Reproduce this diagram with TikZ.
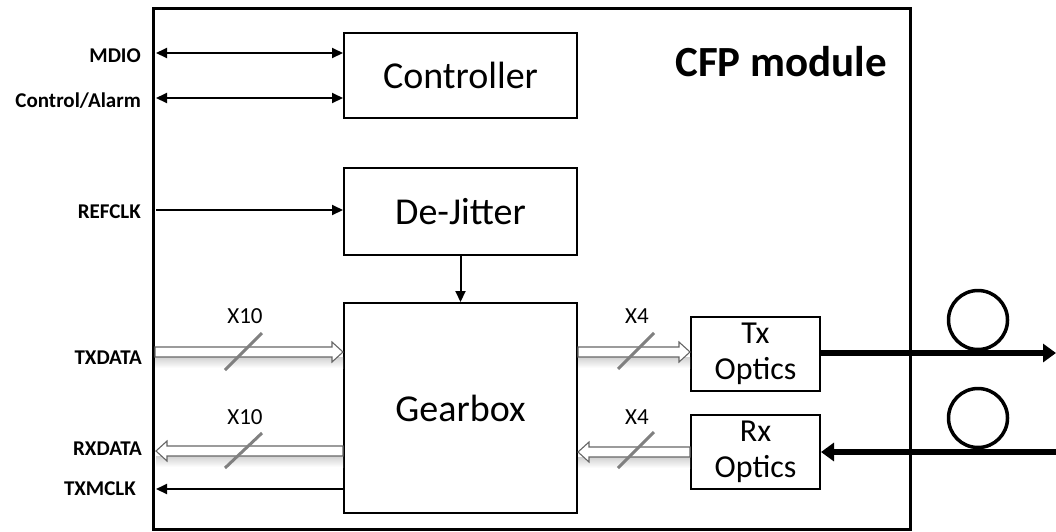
\documentclass[tikz,border=0pt]{standalone}
\usepackage{fontspec}
\setmainfont{Carlito}
\usetikzlibrary{arrows.meta,calc}
\tikzset{
  blk/.style={draw, line width=2pt, rectangle, inner sep=0pt, font=\fontsize{38}{42}\selectfont},
  optblk/.style={draw, line width=2pt, rectangle, inner sep=0pt, align=center, font=\fontsize{32}{36}\selectfont},
  sig/.style={line width=2pt},
  tipa/.style={-{Triangle[length=11pt,width=10pt]}},
  tipab/.style={{Triangle[length=11pt,width=10pt]}-{Triangle[length=11pt,width=10pt]}},
  fibre/.style={line width=5.5pt, -{Triangle[length=13pt,width=18pt]}},
  lbl/.style={anchor=base east, inner sep=0pt, font=\bfseries\fontsize{21}{24}\selectfont},
  cnt/.style={anchor=base, inner sep=0pt, font=\fontsize{23}{26}\selectfont},
  slash/.style={draw=black!50, line width=3pt},
  hollowst/.style={draw=black!60, line width=1.1pt, fill=white, line join=miter},
  shadowst/.style={top color=black!18, bottom color=white, draw=none},
  loop/.style={draw, circle, line width=3.5pt, minimum size=59pt, inner sep=0pt}
}
\newcommand\hollowarr[3]{%
  \shade[shadowst] ($(#1)+(0,5)$) rectangle ($(#2)+(0,16)$);
  \draw[hollowst] ($(#1)+(0,-5)$) -- ($(#2)+(#3,-5)$) -- ($(#2)+(#3,-10)$) -- (#2)
    -- ($(#2)+(#3,10)$) -- ($(#2)+(#3,5)$) -- ($(#1)+(0,5)$) -- cycle;}
\begin{document}
\begin{tikzpicture}[x=1pt,y=-1pt]
\useasboundingbox (0,0) rectangle (1056,531);
% module frame
\node[draw, line width=3pt, minimum width=757pt, minimum height=521pt, inner sep=0pt] (module) at (531.5,268.5) {};
\node[anchor=base east, inner sep=0pt, font=\bfseries\fontsize{43}{48}\selectfont] (title) at (887,76) {CFP module};
% blocks
\node[blk, minimum width=233pt, minimum height=85pt] (ctrl) at (460.5,75.5) {Controller};
\node[blk, minimum width=233pt, minimum height=87pt] (dj) at (460.5,211.5) {De-Jitter};
\node[blk, minimum width=233pt, minimum height=210pt] (gb) at (460.5,408) {Gearbox};
\node[optblk, minimum width=129pt, minimum height=74pt] (tx) at (755.5,354) {Tx\\Optics};
\node[optblk, minimum width=129pt, minimum height=74pt] (rx) at (755.5,452) {Rx\\Optics};
% edge coordinates on the module border
\coordinate (mdioL) at (156,53);
\coordinate (ctlL) at (156,98);
\coordinate (refL) at (156,210);
\coordinate (txdL) at (155,352);
\coordinate (rxdL) at (156,451);
\coordinate (mclkL) at (156,489);
% labels
\node[lbl] (mdiot) at (141,62) {MDIO};
\node[lbl] (ctlt) at (141,107) {Control/Alarm};
\node[lbl] (reft) at (141,218) {REFCLK};
\node[lbl] (txdt) at (142,364) {TXDATA};
\node[lbl] (rxdt) at (142,455) {RXDATA};
\node[lbl] (mclkt) at (136,495) {TXMCLK};
% control signals
\draw[sig,tipab] (mdioL) -- (mdioL -| ctrl.west);
\draw[sig,tipab] (ctlL) -- (ctlL -| ctrl.west);
\draw[sig,tipa] (refL) -- (refL -| dj.west);
\draw[sig,tipa] (dj.south) -- (gb.north);
\draw[sig,tipa] (mclkL -| gb.west) -- (mclkL);
% data buses
\coordinate (gbTxIn) at (txdL -| gb.west);
\coordinate (gbRxOut) at (rxdL -| gb.west);
\hollowarr{txdL}{gbTxIn}{-11}
\hollowarr{gbRxOut}{rxdL}{11}
\coordinate (gbTxOut) at (gb.east |- 0,352);
\coordinate (txIn) at (tx.west |- 0,352);
\coordinate (gbRxIn) at (gb.east |- 0,452);
\coordinate (rxOut) at (rx.west |- 0,452);
\hollowarr{gbTxOut}{txIn}{-11}
\hollowarr{rxOut}{gbRxIn}{11}
% bus widths
\draw[slash] (225,370) -- (262,333);
\draw[slash] (225,468) -- (262,433);
\draw[slash] (618,369) -- (654,333);
\draw[slash] (618,468) -- (654,432);
\node[cnt] (x10a) at (245,323) {X10};
\node[cnt] (x10b) at (245,424) {X10};
\node[cnt] (x4a) at (637,323) {X4};
\node[cnt] (x4b) at (637,424) {X4};
% fibres
\coordinate (txOut) at (1056,353);
\coordinate (rxIn) at (1056,452);
\node[loop] (loopTx) at (978,320) {};
\node[loop] (loopRx) at (978,418) {};
\draw[fibre] (tx.east |- txOut) -- (txOut);
\draw[fibre] (rxIn) -- (rx.east |- rxIn);
\end{tikzpicture}
\end{document}
